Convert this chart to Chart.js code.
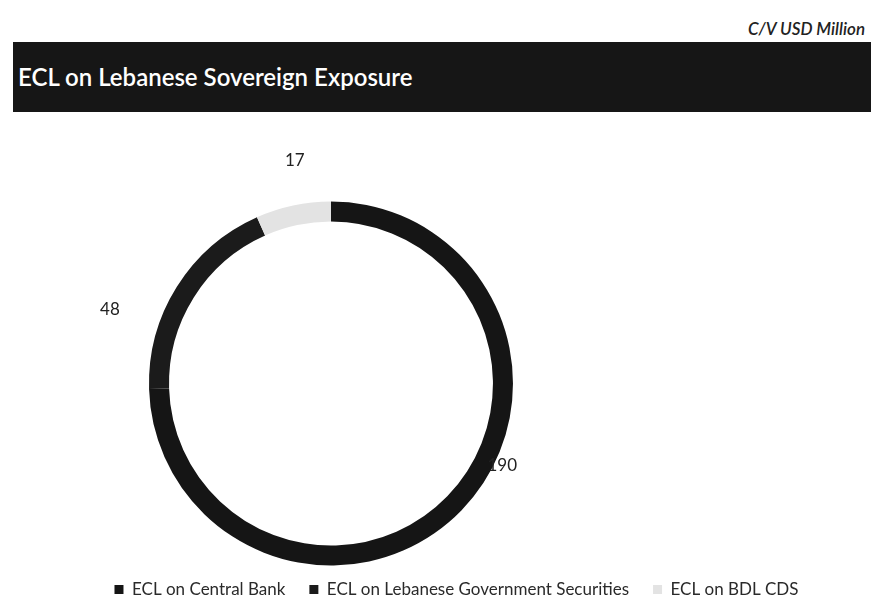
<!DOCTYPE html>
<html>
<head>
<meta charset="utf-8">
<title>ECL on Lebanese Sovereign Exposure</title>
<script src="https://cdn.jsdelivr.net/npm/chart.js@4/dist/chart.umd.min.js"></script>
<style>
  html, body { margin: 0; padding: 0; background: #fff; overflow: hidden; }
  body { width: 871px; height: 601px; position: relative; font-family: Lato, "Open Sans", sans-serif; }
  #unit { position: absolute; right: 6px; top: 18px; font-size: 17px; font-style: italic; font-weight: 600; color: #222; }
  #band { position: absolute; left: 13px; right: 0; top: 42px; height: 70px; background: #161616; }
  #band span { position: absolute; left: 5px; top: 23px; font-size: 24px; line-height: 24px; font-weight: 600; color: #fff; }
  #wrap { position: absolute; left: 0; top: 130px; width: 871px; height: 478px; }
</style>
</head>
<body>
<div id="unit">C/V USD Million</div>
<div id="band"><span>ECL on Lebanese Sovereign Exposure</span></div>
<div id="wrap"><canvas id="myChart"></canvas></div>

<script>
"use strict";

const LABELS = ["ECL on Central Bank", "ECL on Lebanese Government Securities", "ECL on BDL CDS"];
const VALUES = [190, 48, 17];
const COLOURS = ["#151515", "#1b1b1b", "#e3e3e3"];

// move the ring left of the canvas centre, like the original slide
const shiftCentre = {
    id: "shiftCentre",
    afterLayout(chart, args, opts) {
        let area = chart.chartArea;
        let cx = chart.width * opts.frac;
        area.right = area.left + 2 * (cx - area.left);
        area.width = area.right - area.left;
    }
};

// value labels placed around the ring (Excel put them a bit off the slice middle)
const sliceLabels = {
    id: "sliceLabels",
    afterDatasetsDraw(chart, args, opts) {
        let ctx = chart.ctx;
        let meta = chart.getDatasetMeta(0);
        ctx.save();
        ctx.font = opts.font;
        ctx.fillStyle = opts.color;
        ctx.textAlign = "center";
        ctx.textBaseline = "middle";
        meta.data.forEach((arc, i) => {
            let p = arc.getProps(["x", "y", "startAngle", "endAngle", "outerRadius"], true);
            let nudge = opts.nudge[i];
            let a = (p.startAngle + p.endAngle) / 2 + nudge.angle * Math.PI / 180;
            let r = p.outerRadius + nudge.dist;
            ctx.fillText(String(VALUES[i]), p.x + r * Math.cos(a), p.y + r * Math.sin(a));
        });
        ctx.restore();
    }
};

function init()
{
    const data = {
        labels: LABELS,
        datasets: [{
            data: VALUES,
            backgroundColor: COLOURS,
            borderWidth: 0
        }]
    };
    const config = {
        type: "doughnut",
        data: data,
        options: {
            responsive: true,
            maintainAspectRatio: false,
            animation: false,
            radius: 182,
            cutout: "89%",
            layout: { padding: { top: 80, bottom: 0, left: 42 } },
            plugins: {
                legend: {
                    position: "bottom",
                    labels: {
                        boxWidth: 9,
                        boxHeight: 9,
                        padding: 24,
                        color: "#2a2a2a",
                        font: { family: "Lato", size: 17 }
                    }
                },
                tooltip: { enabled: false },
                shiftCentre: { frac: 0.38 },
                sliceLabels: {
                    font: "17px Lato",
                    color: "#222",
                    nudge: [
                        { angle: -18.5, dist: 8 },
                        { angle: -13.7, dist: 51 },
                        { angle: 2.8, dist: 44 }
                    ]
                }
            }
        },
        plugins: [shiftCentre, sliceLabels]
    };
    new Chart(document.getElementById("myChart"), config);
}

document.addEventListener("DOMContentLoaded", init);
</script>
</body>
</html>
